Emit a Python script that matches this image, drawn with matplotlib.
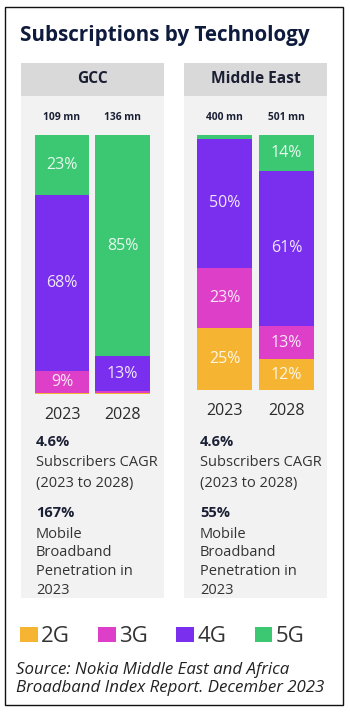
import matplotlib
matplotlib.use("Agg")
import matplotlib.pyplot as plt
from matplotlib.patches import Rectangle, Patch
import numpy as np

plt.rcParams['font.family'] = ['Open Sans', 'DejaVu Sans']

# ---------------- data ----------------
techs = ["2G", "3G", "4G", "5G"]
colors = ["#f5b533", "#de3fc8", "#7a2fef", "#3cc873"]
years = ["2023", "2028"]

gcc_2023 = [0.4, 8.6, 68.0, 23.0]
gcc_2028 = [0.2, 1.0, 13.3, 85.5]
me_2023 = [24.5, 23.5, 50.5, 1.5]
me_2028 = [12.0, 13.0, 61.0, 14.0]

gcc_labels_2023 = ["", "9%", "68%", "23%"]
gcc_labels_2028 = ["", "", "13%", "85%"]
me_labels_2023 = ["25%", "23%", "50%", ""]
me_labels_2028 = ["12%", "13%", "61%", "14%"]

gcc_totals = ["109 mn", "136 mn"]
me_totals = ["400 mn", "501 mn"]

regions = ["GCC", "Middle East"]
cagr = ["4.6%", "4.6%"]
penetration = ["167%", "55%"]

W, H = 350, 712
fig = plt.figure(figsize=(W / 100, H / 100), dpi=100)


def fx(x):
    return x / W


def fy(y):
    return 1 - y / H


def rect(x0, y0, x1, y1, **kw):
    fig.patches.append(Rectangle((fx(x0), fy(y1)), fx(x1) - fx(x0), fy(y0) - fy(y1),
                                 transform=fig.transFigure, **kw))


# outer border
rect(4.5, 6.5, 343, 705, facecolor="white", edgecolor="#111111", linewidth=1.0, zorder=0)

# title
fig.text(fx(20), fy(35), "Subscriptions by Technology", fontsize=14.9, fontweight="bold",
         color="#0f1b3d", ha="left", va="center")

panels = [(21, 164), (184, 327)]
for (x0, x1), name in zip(panels, regions):
    rect(x0, 96, x1, 598, facecolor="#f2f2f2", edgecolor="none", zorder=0.5)
    rect(x0, 63, x1, 96, facecolor="#d9d9d9", edgecolor="none", zorder=0.6)
    fig.text(fx((x0 + x1) / 2), fy(79), name, fontsize=11.2, fontweight="bold",
             color="#1a1f33", ha="center", va="center")


def draw_panel(ax_box, data, labels, totals):
    left, right, top, bottom = ax_box
    ax = fig.add_axes([fx(left), fy(bottom), fx(right) - fx(left), fy(top) - fy(bottom)])
    ax.set_zorder(3)
    ax.patch.set_visible(False)
    ax.set_xlim(-0.45, 1.45)
    ax.set_ylim(0, 100)
    ax.axis("off")
    x = np.arange(len(years))
    bottoms = np.zeros(len(years))
    for i, tech in enumerate(techs):
        vals = np.array([d[i] for d in data])
        ax.bar(x, vals, bottom=bottoms, width=0.9, color=colors[i], linewidth=0)
        for j in range(len(years)):
            lab = labels[j][i]
            if lab:
                ax.text(x[j], bottoms[j] + vals[j] / 2, lab, ha="center", va="center",
                        fontsize=11.5, color="white", alpha=0.88)
        bottoms += vals
    tr = ax.get_xaxis_transform()
    for j in range(len(years)):
        ax.text(x[j], 1 + 17 / (bottom - top), totals[j], transform=tr, ha="center",
                va="center", fontsize=7.4, fontweight="bold", color="#1a1f33",
                clip_on=False)
        ax.text(x[j], -21 / (bottom - top), years[j], transform=tr,
                ha="center", va="center", fontsize=11.5, color="#2b2b2b", clip_on=False)
    return ax


draw_panel((34.8, 149.7, 135, 394), [gcc_2023, gcc_2028],
           [gcc_labels_2023, gcc_labels_2028], gcc_totals)
draw_panel((196.6, 314.4, 135, 390), [me_2023, me_2028],
           [me_labels_2023, me_labels_2028], me_totals)

# text blocks
for xl, c, p in zip([36, 200], cagr, penetration):
    fig.text(fx(xl), fy(442), c, fontsize=10.5, fontweight="bold", color="#1a1f33",
             ha="left", va="center")
    fig.text(fx(xl), fy(463), "Subscribers CAGR", fontsize=10.5, color="#333333",
             ha="left", va="center")
    fig.text(fx(xl), fy(483), "(2023 to 2028)", fontsize=10.5, color="#333333",
             ha="left", va="center")
    fig.text(fx(xl), fy(513), p, fontsize=10.5, fontweight="bold", color="#1a1f33",
             ha="left", va="center")
    for k, line in enumerate(["Mobile", "Broadband", "Penetration in", "2023"]):
        fig.text(fx(xl), fy(534 + k * 18.8), line, fontsize=10.5, color="#333333",
                 ha="left", va="center")

# legend
handles = [Patch(facecolor=c, edgecolor="none") for c in colors]
fig.legend(handles, techs, loc="center left", bbox_to_anchor=(fx(20), fy(637)),
           ncol=4, frameon=False, fontsize=16, handlelength=0.8, handleheight=0.65,
           handletextpad=0.15, columnspacing=1.27, labelcolor="#333333",
           borderpad=0, borderaxespad=0)

# source
fig.text(fx(16), fy(670), "Source: Nokia Middle East and Africa", fontsize=12.2,
         style="italic", color="#222222", ha="left", va="center")
fig.text(fx(16), fy(688), "Broadband Index Report. December 2023", fontsize=12.2,
         style="italic", color="#222222", ha="left", va="center")

fig.savefig("out.png", dpi=100)
